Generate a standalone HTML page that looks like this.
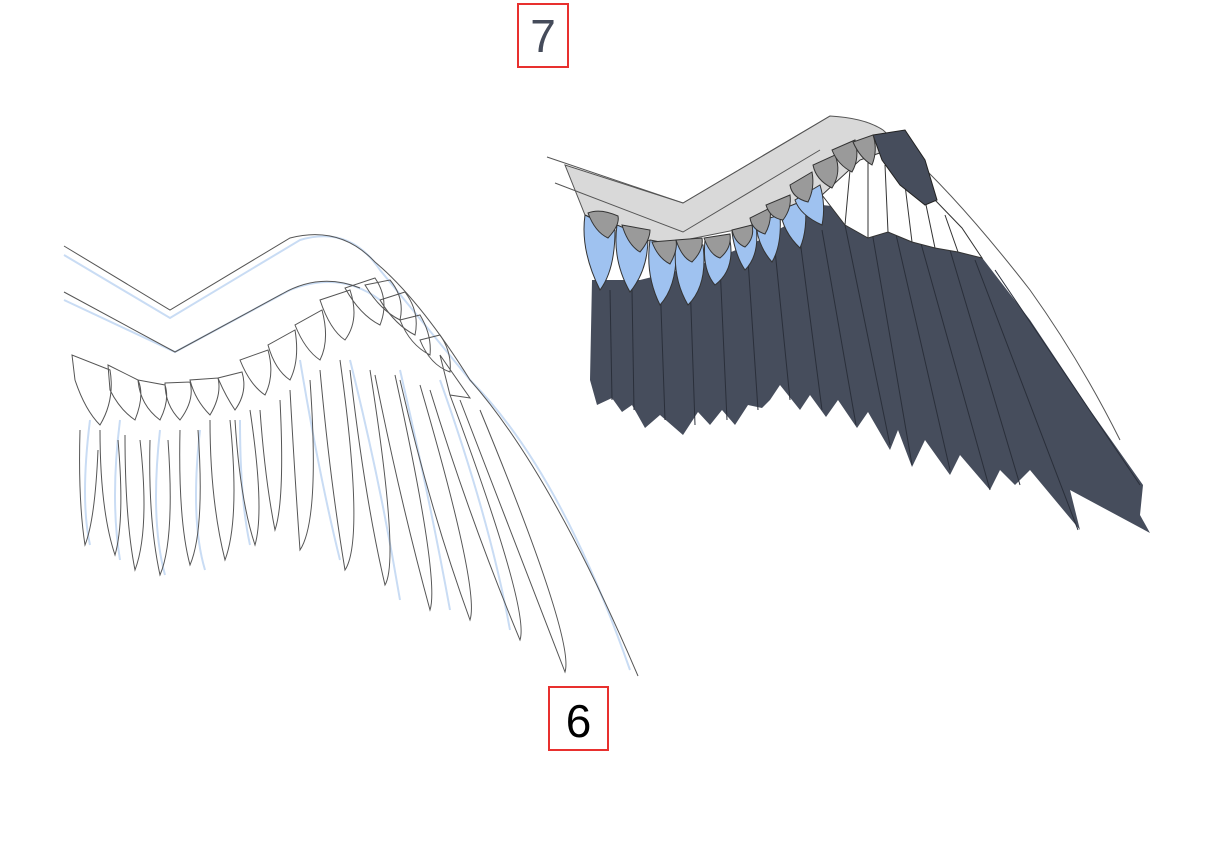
<!DOCTYPE html>
<html><head><meta charset="utf-8"><style>
html,body{margin:0;padding:0;background:#fff;}
.box{position:absolute;border:2px solid #e8302e;font-family:"Liberation Sans",sans-serif;text-align:center;box-sizing:border-box;}
</style></head><body>
<div style="position:relative;width:1209px;height:841px;overflow:hidden;">
<svg width="1209" height="841" style="position:absolute;left:0;top:0">
<!-- LEFT WING (line art) -->
<g fill="none" stroke="#c9dcf4" stroke-width="2">
<path d="M64 255 L170 318 L300 240 Q350 225 380 270 L470 380 Q560 470 630 670"/>
<path d="M64 300 L175 352 L290 290 Q340 270 380 300"/>
<path d="M90 420 Q80 500 90 545 M120 420 Q110 500 120 560 M160 430 Q150 520 165 575 M200 430 Q190 520 205 570 M240 420 Q240 500 250 545"/>
<path d="M300 360 Q320 480 340 560 M350 360 Q380 480 400 600 M400 370 Q430 500 450 610 M440 380 Q490 520 510 630"/>
</g>
<g fill="none" stroke="#555" stroke-width="1">
<path d="M64 246 L170 310 L290 238 Q340 225 375 262 Q420 300 470 380 Q550 470 638 676"/>
<path d="M64 292 L175 352 L282 294 Q320 272 360 288"/>
<path d="M72 355 L75 380 Q85 410 100 425 Q115 400 110 370 Z M108 365 L110 390 Q120 410 135 420 Q145 395 138 380 Z M138 380 Q140 405 160 420 Q170 400 165 385 Z M165 383 Q165 405 180 420 Q195 400 190 382 Z M190 380 Q195 400 210 415 Q222 395 218 378 Z M218 378 Q225 395 235 410 Q248 392 242 372 Z"/>
<path d="M240 360 Q250 385 265 395 Q275 375 268 350 Z M268 345 Q275 370 290 380 Q300 360 295 330 Z M295 325 Q305 350 320 360 Q330 340 322 310 Z M320 300 Q330 330 345 340 Q360 320 350 290 Z M345 288 Q360 315 380 325 Q390 300 375 278 Z M365 285 Q380 310 400 320 Q405 298 390 280 Z"/>
<path d="M380 300 Q395 325 415 335 Q420 312 405 292 Z M400 320 Q410 345 430 355 Q432 335 420 315 Z M420 340 Q430 365 450 372 Q452 352 440 335 Z M440 355 L470 398 L450 395 Z"/>
<path d="M80 430 Q78 500 85 545 Q95 520 98 450 M100 430 Q100 510 115 555 Q125 520 118 440 M125 435 Q125 520 135 570 Q150 530 140 440 M150 440 Q148 520 160 575 Q175 540 168 440 M180 430 Q178 520 190 565 Q205 530 198 430 M210 420 Q210 500 225 560 Q240 520 230 420 M235 420 Q240 500 255 545 Q265 510 250 410"/>
<path d="M260 410 Q265 480 275 530 Q285 500 280 400 M290 390 Q295 480 300 550 Q320 520 310 380 M320 370 Q330 480 345 570 Q365 540 340 360 M350 370 Q365 500 385 585 Q400 560 370 370 M375 375 Q400 500 430 610 Q440 580 395 375 M400 380 Q430 510 470 620 Q480 590 420 385 M430 390 Q470 520 520 640 Q530 610 450 395 M460 400 Q510 530 565 672 Q575 640 480 410"/>
</g>
<!-- RIGHT WING -->
<path d="M565 165 L683 203 L830 116 Q865 118 883 130 L905 150 L880 180 L822 195 L760 225 L660 245 L585 215 Z" fill="#d9d9d9" stroke="#555" stroke-width="1"/>
<path d="M547 157 L683 203 L830 116 M555 183 L683 232 L820 150" fill="none" stroke="#555" stroke-width="1"/>
<path d="M905 150 Q960 200 1030 290 Q1080 360 1120 440" fill="none" stroke="#555" stroke-width="1"/>
<!-- dark feathers -->
<path d="M592 280 L590 380 L597 405 L612 398 L622 412 L632 405 L645 428 L660 415 L683 435 L698 412 L710 425 L722 410 L735 425 L748 405 L762 408 L770 400 L780 385 L800 410 L810 395 L826 417 L838 400 L857 428 L868 412 L890 450 L898 430 L912 467 L925 440 L950 475 L960 455 L990 490 L1000 470 L1015 485 L1030 470 L1080 530 L1070 490 L1150 533 L1140 515 L1143 485 L1090 410 L1030 320 L980 255 L920 220 L870 210 L822 205 L760 240 L700 265 L640 280 Z" fill="#464d5c"/>
<g fill="none" stroke="#2a2f3a" stroke-width="1">
<path d="M610 290 L612 400 M632 290 L634 410 M660 280 L665 420 M690 280 L695 425 M720 265 L727 420 M748 260 L758 410 M775 250 L790 400 M800 240 L822 410 M822 230 L856 425 M845 225 L890 445 M870 220 L912 465 M895 230 L950 470 M920 240 L990 490 M950 250 L1020 485 M975 260 L1078 530 M995 270 L1140 485"/>
</g>
<!-- white feathers -->
<path d="M822 195 L845 225 L868 238 L888 232 L912 242 L935 248 L958 252 L982 258 L962 228 L935 200 L910 170 L888 150 L860 160 Z" fill="#fff" stroke="#333" stroke-width="1"/>
<path d="M845 225 L850 170 M868 238 L868 160 M888 232 L885 165 M912 242 L905 185 M935 248 L925 200 M958 252 L945 215" fill="none" stroke="#333" stroke-width="1"/>
<path d="M873 135 L905 130 L925 160 L937 200 L925 205 L900 185 L882 160 Z" fill="#464d5c" stroke="#222" stroke-width="1"/>
<!-- blue feathers -->
<g fill="#9fc2f0" stroke="#333" stroke-width="1">
<path d="M585 215 Q580 250 600 290 Q615 270 615 230 Z"/>
<path d="M617 225 Q612 260 630 292 Q648 270 648 238 Z"/>
<path d="M650 240 Q645 275 660 305 Q678 285 676 245 Z"/>
<path d="M676 242 Q672 278 688 305 Q708 285 703 245 Z"/>
<path d="M705 240 Q702 270 715 285 Q735 270 730 240 Z"/>
<path d="M732 232 Q735 255 745 270 Q760 255 756 225 Z"/>
<path d="M756 222 Q757 245 772 262 Q782 245 780 215 Z"/>
<path d="M780 210 Q783 232 800 248 Q808 230 805 200 Z"/>
<path d="M795 200 Q800 215 822 225 Q826 205 820 185 Z"/>
</g>
<!-- gray coverts -->
<g fill="#9a9a9a" stroke="#333" stroke-width="1">
<path d="M588 213 Q595 232 608 238 Q620 225 618 216 Q600 208 588 213 Z"/>
<path d="M622 225 Q628 245 640 252 Q650 240 650 230 Z"/>
<path d="M652 242 Q658 258 670 264 Q678 250 676 240 Z"/>
<path d="M676 240 Q682 258 692 262 Q704 250 702 238 Z"/>
<path d="M704 238 Q710 255 720 258 Q732 248 730 234 Z"/>
<path d="M732 230 Q735 243 745 247 Q755 238 752 225 Z"/>
<path d="M750 218 Q752 230 765 234 Q772 222 770 208 Z"/>
<path d="M766 205 Q770 218 783 220 Q792 208 790 195 Z"/>
<path d="M790 185 Q792 198 808 202 Q815 188 812 172 Z"/>
<path d="M813 165 Q816 180 832 188 Q842 172 835 155 Z"/>
<path d="M832 150 Q838 165 852 172 Q860 158 855 140 Z"/>
<path d="M853 142 Q860 158 872 165 Q878 150 873 135 Z"/>
</g>
</svg>
<div class="box" style="left:517px;top:3px;width:52px;height:65px;font-size:46px;line-height:62px;color:#454b5a;">7</div>
<div class="box" style="left:548px;top:686px;width:61px;height:65px;font-size:46px;line-height:66px;color:#000;">6</div>
</div>
</body></html>
